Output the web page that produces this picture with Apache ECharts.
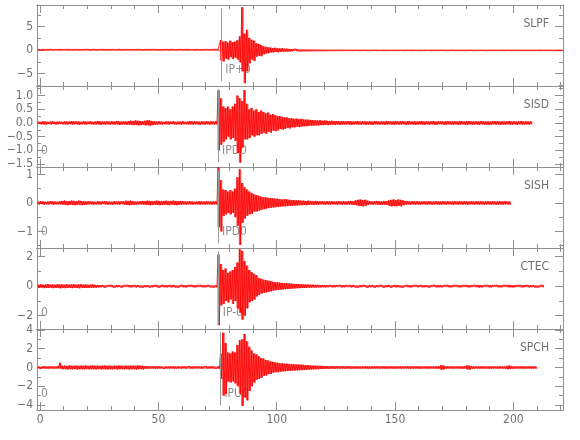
<!DOCTYPE html>
<html><head><meta charset="utf-8">
<script src="https://cdn.jsdelivr.net/npm/echarts@6/dist/echarts.min.js"></script>
<style>html,body{margin:0;padding:0;background:#fff}#c{width:580px;height:440px}</style>
</head><body><div id="c"></div>
<script>
// ---------------- data ----------------
const stations = ['SLPF', 'SISD', 'SISH', 'CTEC', 'SPCH'];
const binStart = -1;          // time (s) of the first 1-s envelope bin
const xMin = -1.3, xMax = 221;
const xMajorTicks = [0, 50, 100, 150, 200];
const xMinorTicks = [10, 20, 30, 40, 60, 70, 80, 90, 110, 120, 130, 140, 160, 170, 180, 190, 210, 220];
const yMin = [-7.62, -1.61, -1.58, -2.9, -4.53];
const yMax = [9.58, 1.35, 1.26, 2.59, 4.1];
const yMajorTicks = [[-5, 0, 5], [-1.5, -1, -0.5, 0, 0.5, 1], [-1, 0, 1], [-2, 0, 2], [-4, -2, 0, 2, 4]];
const yMinorTicks = [[-7.5, -2.5, 2.5, 7.5], [-1.25, -0.75, -0.25, 0.25, 0.75, 1.25], [-1.5, -0.5, 0.5], [-1, 1], [-3, -1, 1, 3]];
const yDecimals = [0, 1, 0, 0, 0];
const pickTimes = [76.6, 75.2, 75.2, 75.5, 76.2];
const pickLabels = ['IP+0', 'IPD0', 'IPD0', 'IP-0', 'IPU0'];
const originTimes = [null, 0, 0, 0, 0];
const originLabels = ['', '0', '0', '0', '0'];

// per-second envelope (max / min) of each trace
const hiSLPF = [
 .15,.13,.17,.14,.15,.18,.13,.15,.14,.16,
 .13,.15,.18,.14,.15,.13,.17,.15,.13,.15,
 .18,.15,.13,.16,.15,.14,.15,.17,.13,.15,
 .14,.16,.15,.13,.18,.15,.14,.15,.16,.13,
 .15,.14,.17,.15,.13,.15,.16,.14,.15,.18,
 .14,.15,.13,.16,.15,.14,.17,.15,.13,.15,
 .16,.14,.15,.18,.13,.15,.14,.17,.15,.13,
 .15,.16,.14,.15,.18,.17,.15,2.1,1.8,1.9,
 1.6,2.0,1.7,1.8,2.1,2.9,9.1,3.5,4.3,2.6,
 2.2,2.0,1.5,1.3,1.1,0.8,0.7,0.6,0.55,0.45,
 0.5,0.4,0.35,0.4,0.3,0.3,0.25,0.25,0.22,0.25,
 0.2,0.22,0.2,0.18,0.2,0.17,0.18,0.15,0.17,0.15,
 .16,.15,.14,.13,.15,.12,.14,.13,.12,.14,
 .12,.13,.11,.12,.14,.12,.11,.13,.12,.10,
 .12,.11,.13,.12,.10,.12,.14,.11,.12,.10,
 .13,.12,.11,.12,.10,.13,.12,.11,.14,.12,
 .10,.12,.11,.13,.12,.10,.12,.14,.11,.12,
 .13,.11,.12,.10,.12,.15,.11,.12,.10,.13,
 .12,.11,.14,.12,.10,.12,.11,.13,.12,.10,
 .12,.14,.11,.12,.10,.13,.12,.11,.12,.14,
 .11,.12,.10,.13,.12,.11,.12,.10,.13,.12,
 .11,.12,.14,.10,.12,.11,.13,.12,.10,.12,
 .11,.12];
const loSLPF = [
 -.14,-.16,-.13,-.15,-.17,-.14,-.15,-.13,-.16,-.15,
 -.15,-.13,-.16,-.15,-.14,-.17,-.13,-.15,-.16,-.14,
 -.13,-.15,-.17,-.14,-.15,-.16,-.13,-.15,-.14,-.16,
 -.15,-.14,-.13,-.16,-.15,-.17,-.14,-.15,-.13,-.15,
 -.16,-.15,-.14,-.13,-.17,-.15,-.14,-.16,-.15,-.13,
 -.15,-.16,-.14,-.15,-.13,-.17,-.15,-.14,-.16,-.15,
 -.13,-.15,-.16,-.14,-.15,-.13,-.17,-.15,-.14,-.16,
 -.15,-.14,-.16,-.15,-.17,-.15,-.16,-2.2,-2.4,-1.8,
 -2.0,-1.5,-1.9,-1.6,-2.0,-2.6,-4.5,-7.0,-4.5,-2.8,
 -2.0,-2.3,-1.4,-1.2,-1.3,-0.9,-0.7,-0.65,-0.5,-0.5,
 -0.4,-0.45,-0.4,-0.35,-0.35,-0.3,-0.3,-0.25,-0.2,-0.22,
 -0.2,-0.22,-0.2,-0.2,-0.18,-0.19,-0.16,-0.17,-0.15,-0.16,
 -.15,-.14,-.15,-.13,-.12,-.14,-.13,-.12,-.13,-.11,
 -.12,-.10,-.13,-.12,-.11,-.13,-.12,-.10,-.12,-.13,
 -.11,-.12,-.10,-.13,-.12,-.11,-.12,-.14,-.10,-.12,
 -.13,-.11,-.12,-.10,-.13,-.12,-.11,-.12,-.13,-.10,
 -.12,-.13,-.11,-.12,-.10,-.12,-.14,-.11,-.12,-.13,
 -.10,-.12,-.13,-.11,-.12,-.10,-.13,-.12,-.11,-.12,
 -.13,-.12,-.10,-.12,-.14,-.11,-.12,-.10,-.13,-.12,
 -.11,-.12,-.13,-.10,-.12,-.11,-.13,-.12,-.10,-.12,
 -.12,-.10,-.13,-.11,-.12,-.13,-.10,-.12,-.11,-.13,
 -.12,-.11,-.12,-.13,-.10,-.12,-.11,-.13,-.12,-.11,
 -.12,-.11];

const hiSISD = [
 .05,.04,.06,.05,.04,.05,.06,.04,.05,.05,
 .04,.06,.05,.05,.07,.05,.06,.05,.04,.06,
 .05,.05,.06,.04,.05,.07,.06,.05,.05,.06,
 .05,.06,.05,.07,.06,.05,.06,.05,.07,.08,
 .07,.09,.08,.07,.06,.08,.10,.09,.07,.06,
 .05,.06,.05,.04,.06,.05,.05,.06,.04,.05,
 .05,.06,.04,.05,.07,.05,.06,.05,.05,.06,
 .05,.06,.05,.06,.05,.07,1.2,0.9,0.6,0.55,
 0.6,0.5,0.6,0.7,1.0,0.9,0.8,1.2,0.7,0.5,
 0.55,0.45,0.5,0.4,0.45,0.4,0.35,0.38,0.3,0.32,
 0.28,0.25,0.25,0.22,0.2,0.2,0.17,0.17,0.15,0.16,
 0.14,0.15,0.13,0.12,0.12,0.11,0.1,0.1,0.09,0.1,
 .08,.09,.08,.07,.08,.07,.07,.06,.07,.06,
 .06,.07,.06,.05,.06,.07,.05,.06,.06,.05,
 .06,.05,.07,.06,.05,.06,.05,.07,.06,.05,
 .06,.07,.05,.06,.06,.05,.07,.06,.05,.06,
 .05,.06,.07,.05,.06,.05,.06,.07,.05,.06,
 .06,.05,.06,.07,.05,.06,.06,.05,.07,.06,
 .05,.06,.07,.06,.05,.06,.05,.07,.06,.05,
 .06,.05,.06,.07,.06,.05,.06,.05,.06,.07,
 .05,.06,.05,.06,.07,.05,.06,.05,.06];
const loSISD = [
 -.04,-.05,-.05,-.06,-.04,-.05,-.04,-.06,-.05,-.04,
 -.05,-.05,-.06,-.04,-.06,-.05,-.05,-.07,-.05,-.05,
 -.06,-.04,-.05,-.06,-.05,-.05,-.07,-.05,-.06,-.05,
 -.06,-.05,-.06,-.05,-.07,-.06,-.05,-.07,-.06,-.07,
 -.08,-.07,-.09,-.08,-.07,-.09,-.08,-.10,-.08,-.07,
 -.06,-.05,-.06,-.05,-.05,-.06,-.04,-.05,-.06,-.05,
 -.06,-.05,-.05,-.06,-.05,-.06,-.05,-.05,-.07,-.05,
 -.06,-.05,-.06,-.05,-.06,-.05,-1.0,-0.8,-0.7,-0.6,
 -0.5,-0.6,-0.55,-0.65,-1.1,-1.45,-0.9,-0.6,-0.6,-0.55,
 -0.45,-0.5,-0.45,-0.45,-0.4,-0.35,-0.4,-0.32,-0.35,-0.28,
 -0.3,-0.27,-0.22,-0.24,-0.22,-0.18,-0.2,-0.16,-0.16,-0.14,
 -0.15,-0.13,-0.12,-0.12,-0.11,-0.1,-0.1,-0.09,-0.09,-0.08,
 -.08,-.07,-.08,-.07,-.06,-.07,-.06,-.07,-.06,-.06,
 -.05,-.06,-.07,-.06,-.05,-.06,-.06,-.05,-.07,-.06,
 -.06,-.07,-.05,-.06,-.06,-.05,-.07,-.06,-.05,-.06,
 -.07,-.05,-.06,-.06,-.05,-.07,-.06,-.05,-.06,-.07,
 -.06,-.05,-.06,-.07,-.05,-.06,-.05,-.06,-.07,-.05,
 -.05,-.06,-.07,-.05,-.06,-.06,-.05,-.07,-.06,-.05,
 -.06,-.07,-.05,-.06,-.06,-.05,-.07,-.05,-.06,-.06,
 -.07,-.06,-.05,-.06,-.05,-.07,-.06,-.06,-.05,-.06,
 -.06,-.05,-.07,-.05,-.06,-.06,-.05,-.06,-.05];

const hiSISH = [
 .05,.06,.05,.04,.05,.06,.05,.05,.04,.06,
 .07,.08,.06,.07,.08,.07,.06,.08,.07,.06,
 .05,.06,.05,.05,.04,.06,.05,.05,.06,.05,
 .05,.04,.06,.05,.05,.06,.05,.08,.07,.08,
 .06,.05,.05,.06,.07,.06,.08,.07,.06,.07,
 .08,.07,.06,.07,.08,.06,.07,.08,.07,.06,
 .07,.06,.05,.05,.06,.05,.04,.05,.06,.05,
 .05,.06,.05,.05,.06,.05,1.25,0.8,0.47,0.45,
 0.4,0.45,0.4,0.5,0.9,1.18,0.7,0.55,0.47,0.4,
 0.35,0.3,0.28,0.25,0.22,0.2,0.2,0.18,0.17,0.16,
 0.15,0.15,0.13,0.12,0.13,0.12,0.11,0.1,0.1,0.09,
 .09,.08,.08,.07,.08,.07,.06,.07,.06,.06,
 .06,.05,.06,.05,.06,.05,.05,.06,.05,.06,
 .05,.06,.07,.06,.09,.11,.12,.10,.11,.08,
 .06,.05,.06,.07,.06,.05,.07,.06,.09,.11,
 .12,.10,.12,.11,.09,.07,.06,.05,.06,.05,
 .06,.05,.05,.06,.05,.06,.05,.05,.06,.05,
 .05,.06,.05,.06,.05,.05,.06,.05,.06,.05,
 .06,.05,.05,.06,.05,.06,.05,.06,.05,.05,
 .06,.05,.06,.05,.05,.06,.05,.06,.05,.05];
const loSISH = [
 -.05,-.04,-.06,-.05,-.05,-.04,-.06,-.05,-.05,-.05,
 -.06,-.07,-.08,-.06,-.07,-.08,-.07,-.06,-.08,-.07,
 -.06,-.05,-.05,-.06,-.05,-.05,-.06,-.04,-.05,-.06,
 -.05,-.06,-.05,-.05,-.06,-.04,-.06,-.07,-.08,-.07,
 -.07,-.06,-.05,-.05,-.06,-.07,-.07,-.08,-.07,-.06,
 -.07,-.08,-.07,-.06,-.07,-.08,-.06,-.07,-.08,-.07,
 -.06,-.05,-.06,-.05,-.05,-.06,-.05,-.05,-.06,-.05,
 -.06,-.05,-.05,-.06,-.05,-.05,-0.85,-1.0,-0.45,-0.4,
 -0.35,-0.4,-0.35,-0.5,-0.8,-1.47,-0.7,-0.55,-0.45,-0.4,
 -0.38,-0.3,-0.3,-0.27,-0.24,-0.22,-0.2,-0.18,-0.17,-0.16,
 -0.15,-0.14,-0.13,-0.12,-0.12,-0.11,-0.1,-0.1,-0.09,-0.09,
 -.08,-.08,-.07,-.08,-.07,-.06,-.07,-.06,-.06,-.05,
 -.05,-.06,-.05,-.06,-.05,-.05,-.06,-.05,-.06,-.05,
 -.06,-.05,-.06,-.07,-.08,-.10,-.11,-.12,-.10,-.07,
 -.05,-.06,-.05,-.06,-.07,-.06,-.06,-.07,-.10,-.12,
 -.11,-.12,-.10,-.12,-.08,-.06,-.05,-.06,-.05,-.06,
 -.05,-.06,-.05,-.05,-.06,-.05,-.06,-.05,-.05,-.06,
 -.06,-.05,-.06,-.05,-.05,-.06,-.05,-.06,-.05,-.06,
 -.05,-.06,-.05,-.05,-.06,-.05,-.06,-.05,-.06,-.05,
 -.05,-.06,-.05,-.06,-.06,-.05,-.06,-.05,-.05,-.06];

const hiCTEC = [
 .11,.13,.10,.12,.14,.11,.12,.10,.13,.12,
 .12,.10,.13,.11,.12,.14,.10,.12,.13,.11,
 .12,.10,.11,.12,.09,.08,.07,.08,.07,.06,
 .07,.08,.06,.07,.08,.07,.06,.07,.08,.07,
 .06,.07,.08,.07,.06,.07,.08,.06,.07,.07,
 .08,.06,.07,.08,.07,.06,.07,.09,.07,.06,
 .07,.08,.07,.06,.07,.08,.07,.06,.07,.08,
 .07,.06,.08,.07,.06,.07,2.15,1.5,1.1,1.2,
 0.9,1.0,1.1,1.3,1.6,2.5,2.4,1.7,1.4,1.1,
 0.95,0.85,0.75,0.55,0.5,0.45,0.42,0.38,0.35,0.3,
 0.28,0.26,0.24,0.22,0.2,0.2,0.18,0.17,0.16,0.15,
 .14,.13,.12,.12,.11,.10,.10,.09,.09,.08,
 .08,.07,.08,.07,.07,.08,.07,.06,.07,.08,
 .07,.06,.07,.08,.07,.06,.07,.07,.08,.06,
 .07,.08,.06,.07,.07,.08,.06,.07,.09,.07,
 .06,.07,.08,.07,.06,.07,.08,.07,.06,.07,
 .08,.07,.06,.07,.08,.07,.06,.07,.07,.08,
 .07,.06,.07,.08,.07,.06,.07,.08,.07,.06,
 .07,.08,.07,.06,.07,.08,.09,.07,.06,.07,
 .08,.07,.06,.07,.08,.07,.06,.07,.08,.09,
 .07,.08,.07,.06,.07,.08,.07,.06,.07,.08,
 .07,.06,.07,.08];
const loCTEC = [
 -.12,-.10,-.13,-.11,-.12,-.10,-.13,-.12,-.11,-.14,
 -.11,-.13,-.12,-.10,-.13,-.11,-.12,-.14,-.10,-.12,
 -.11,-.12,-.10,-.11,-.10,-.08,-.07,-.06,-.08,-.07,
 -.06,-.07,-.08,-.07,-.06,-.08,-.07,-.06,-.07,-.08,
 -.07,-.08,-.06,-.07,-.08,-.07,-.06,-.08,-.07,-.06,
 -.07,-.08,-.06,-.07,-.08,-.07,-.08,-.06,-.07,-.08,
 -.06,-.07,-.08,-.07,-.06,-.07,-.08,-.07,-.06,-.07,
 -.08,-.07,-.06,-.07,-.08,-.07,-2.64,-1.3,-1.2,-1.0,
 -1.1,-0.9,-1.2,-1.0,-1.5,-1.8,-2.26,-2.0,-1.5,-1.1,
 -1.0,-0.9,-0.7,-0.6,-0.5,-0.45,-0.42,-0.38,-0.35,-0.3,
 -0.27,-0.25,-0.23,-0.22,-0.2,-0.19,-0.17,-0.16,-0.15,-0.14,
 -.13,-.12,-.12,-.11,-.10,-.10,-.09,-.09,-.08,-.08,
 -.07,-.08,-.07,-.06,-.08,-.07,-.06,-.07,-.08,-.07,
 -.06,-.07,-.08,-.06,-.07,-.08,-.07,-.06,-.07,-.08,
 -.07,-.06,-.08,-.07,-.06,-.07,-.08,-.07,-.06,-.08,
 -.07,-.08,-.06,-.07,-.08,-.06,-.07,-.08,-.07,-.06,
 -.07,-.06,-.08,-.07,-.06,-.08,-.07,-.06,-.08,-.07,
 -.08,-.07,-.06,-.07,-.08,-.07,-.06,-.07,-.08,-.07,
 -.06,-.07,-.08,-.07,-.06,-.07,-.09,-.08,-.07,-.06,
 -.07,-.08,-.07,-.06,-.07,-.08,-.07,-.06,-.07,-.08,
 -.08,-.07,-.06,-.07,-.08,-.07,-.06,-.08,-.07,-.06,
 -.07,-.08,-.06,-.07];

const hiSPCH = [
 .12,.10,.14,.12,.11,.13,.12,.10,.14,.50,
 .18,.20,.16,.22,.19,.18,.21,.17,.20,.18,
 .21,.17,.19,.22,.18,.20,.17,.19,.21,.18,
 .20,.17,.19,.18,.22,.19,.17,.20,.18,.19,
 .21,.18,.22,.20,.17,.15,.14,.12,.13,.12,
 .11,.13,.12,.10,.12,.11,.13,.12,.10,.12,
 .11,.13,.12,.10,.12,.11,.13,.12,.11,.12,
 .10,.12,.11,.13,.12,.10,.12,1.5,3.7,2.6,
 1.6,1.5,1.7,1.6,2.4,2.9,3.0,3.55,2.8,2.2,
 1.8,1.5,1.4,1.2,1.0,0.95,0.8,0.75,0.65,0.6,
 0.55,0.5,0.45,0.45,0.4,0.4,0.38,0.35,0.35,0.32,
 0.3,0.3,0.28,0.25,0.25,0.22,0.2,0.2,0.18,0.18,
 .17,.15,.15,.14,.15,.13,.14,.12,.13,.12,
 .12,.13,.11,.12,.13,.12,.11,.12,.13,.12,
 .11,.12,.13,.12,.11,.14,.12,.11,.12,.13,
 .12,.11,.13,.12,.11,.12,.13,.12,.11,.12,
 .13,.12,.11,.12,.13,.12,.11,.12,.13,.12,
 .25,.22,.14,.12,.13,.12,.11,.12,.13,.12,
 .14,.22,.20,.13,.12,.11,.12,.13,.12,.11,
 .12,.13,.12,.11,.12,.13,.12,.11,.18,.20,
 .13,.12,.11,.12,.13,.12,.11,.12,.13,.12,
 .11];
const loSPCH = [
 -.11,-.13,-.10,-.12,-.14,-.11,-.12,-.13,-.10,-.12,
 -.19,-.17,-.21,-.18,-.20,-.17,-.22,-.19,-.18,-.20,
 -.17,-.20,-.18,-.19,-.21,-.17,-.20,-.18,-.19,-.21,
 -.18,-.20,-.17,-.21,-.19,-.18,-.20,-.17,-.21,-.19,
 -.18,-.21,-.19,-.17,-.20,-.14,-.13,-.12,-.11,-.13,
 -.12,-.11,-.10,-.13,-.11,-.12,-.10,-.13,-.12,-.11,
 -.12,-.10,-.13,-.11,-.12,-.13,-.10,-.11,-.12,-.13,
 -.11,-.12,-.13,-.10,-.11,-.12,-.13,-1.2,-3.0,-2.8,
 -1.5,-1.6,-1.5,-1.7,-2.0,-2.8,-4.1,-3.2,-3.5,-2.5,
 -2.0,-1.6,-1.3,-1.2,-1.1,-0.9,-0.85,-0.7,-0.7,-0.55,
 -0.5,-0.5,-0.45,-0.42,-0.4,-0.38,-0.35,-0.33,-0.32,-0.3,
 -0.3,-0.28,-0.26,-0.25,-0.23,-0.22,-0.2,-0.19,-0.18,-0.17,
 -.16,-.15,-.14,-.15,-.13,-.14,-.12,-.13,-.12,-.13,
 -.12,-.11,-.13,-.12,-.11,-.12,-.13,-.11,-.12,-.13,
 -.12,-.13,-.11,-.12,-.13,-.11,-.12,-.13,-.11,-.12,
 -.13,-.12,-.11,-.13,-.12,-.11,-.12,-.13,-.12,-.11,
 -.12,-.13,-.12,-.11,-.12,-.13,-.11,-.12,-.13,-.12,
 -.24,-.21,-.13,-.12,-.11,-.13,-.12,-.11,-.12,-.13,
 -.12,-.20,-.23,-.12,-.13,-.11,-.12,-.13,-.11,-.12,
 -.13,-.12,-.11,-.12,-.13,-.11,-.12,-.13,-.19,-.17,
 -.12,-.13,-.11,-.12,-.12,-.13,-.11,-.12,-.12,-.13,
 -.12];

const hiAll = [hiSLPF, hiSISD, hiSISH, hiCTEC, hiSPCH];
const loAll = [loSLPF, loSISD, loSISH, loCTEC, loSPCH];

// ---------------- chart ----------------
const AX = '#909090', TXT = '#707070', RED = '#ff0000', PICK = '#9a9a9a';
const FF = "'Liberation Sans Narrow', 'DejaVu Sans Condensed', sans-serif";
const PANEL_TOP = 5, PANEL_H = 81;

function zigzag(hi, lo) {
  const d = [];
  const n = Math.min(hi.length, lo.length);
  for (let i = 0; i < n; i++) {
    const t = binStart + i;
    d.push([t + 0.25, hi[i]]);
    d.push([t + 0.75, lo[i]]);
  }
  return d;
}
function envelope(hi, lo) {
  const d = [];
  const n = Math.min(hi.length, lo.length);
  for (let i = 0; i < n; i++) d.push([binStart + i, lo[i], hi[i]]);
  return d;
}
function fmt(dec) {
  return v => (v < 0 ? '\u2212' : '') + Math.abs(v).toFixed(dec);
}
function renderBin(params, api) {
  const t = api.value(0), lo = api.value(1), hi = api.value(2);
  const a = api.coord([t, hi]), b = api.coord([t + 1, lo]);
  const cs = params.coordSys;
  const x0 = Math.max(a[0], cs.x), x1 = Math.min(b[0], cs.x + cs.width);
  if (x1 <= x0) return null;
  return { type: 'rect', shape: { x: x0, y: a[1], width: x1 - x0, height: Math.max(b[1] - a[1], 0.8) },
    style: { fill: 'rgba(255,0,0,0.72)' } };
}

const grid = [], xAxis = [], yAxis = [], series = [], title = [];
stations.forEach((name, i) => {
  const top = PANEL_TOP + PANEL_H * i;
  grid.push({ left: 37, right: 17, top: top, height: PANEL_H });
  const xBase = { gridIndex: i, type: 'value', min: xMin, max: xMax, splitLine: { show: false },
    axisLine: { show: true, onZero: false, lineStyle: { color: AX, width: 1 } } };
  const isLast = i === stations.length - 1;
  ['bottom', 'top'].forEach(pos => {
    xAxis.push(Object.assign({}, xBase, { position: pos,
      axisTick: { show: true, inside: true, length: 4, customValues: xMinorTicks, lineStyle: { color: AX } },
      axisLabel: { show: pos === 'bottom' && isLast, customValues: xMajorTicks, margin: 4,
        color: TXT, fontSize: 12, fontFamily: FF } }));
    xAxis.push(Object.assign({}, xBase, { position: pos,
      axisTick: { show: true, inside: true, length: 8, customValues: xMajorTicks, lineStyle: { color: AX } },
      axisLabel: { show: false } }));
  });
  const yBase = { gridIndex: i, type: 'value', min: yMin[i], max: yMax[i], splitLine: { show: false },
    axisLine: { show: true, onZero: false, lineStyle: { color: AX, width: 1 } } };
  ['left', 'right'].forEach(pos => {
    yAxis.push(Object.assign({}, yBase, { position: pos,
      axisTick: { show: true, inside: true, length: 8, customValues: yMajorTicks[i], lineStyle: { color: AX } },
      axisLabel: { show: pos === 'left', customValues: yMajorTicks[i], margin: 4, formatter: fmt(yDecimals[i]),
        color: TXT, fontSize: 12, fontFamily: FF } }));
    yAxis.push(Object.assign({}, yBase, { position: pos,
      axisTick: { show: true, inside: true, length: 4, customValues: yMinorTicks[i], lineStyle: { color: AX } },
      axisLabel: { show: false } }));
  });
  const range = yMax[i] - yMin[i];
  const lineTop = yMax[i] - 0.04 * range, lineBot = yMax[i] - 0.94 * range;
  const labY = yMax[i] - 0.8 * range;
  // pick line + labels, drawn beneath the trace
  const labels = [{ value: [pickTimes[i], labY], label: { formatter: pickLabels[i], distance: 4 } }];
  if (originTimes[i] !== null) labels.push({ value: [originTimes[i], labY], label: { formatter: originLabels[i], distance: 1 } });
  series.push({
    type: 'scatter', xAxisIndex: 4 * i, yAxisIndex: 4 * i, symbolSize: 0, animation: false, silent: true, z: 1,
    label: { show: true, position: 'right', color: TXT, fontSize: 12, fontFamily: FF },
    data: labels,
    markLine: { silent: true, animation: false, symbol: ['none', 'none'],
      label: { show: false }, lineStyle: { color: PICK, type: 'solid', width: 1 },
      data: [[{ coord: [pickTimes[i], lineTop] }, { coord: [pickTimes[i], lineBot] }]] }
  });
  series.push({
    type: 'custom', xAxisIndex: 4 * i, yAxisIndex: 4 * i, data: envelope(hiAll[i], loAll[i]),
    renderItem: renderBin, encode: { x: 0, y: [1, 2] }, animation: false, silent: true, z: 2
  });
  series.push({
    type: 'line', xAxisIndex: 4 * i, yAxisIndex: 4 * i, data: zigzag(hiAll[i], loAll[i]),
    showSymbol: false, symbol: 'none', animation: false, silent: true, z: 3,
    lineStyle: { color: RED, width: 0.8, join: 'bevel' }
  });
  title.push({ text: name, right: 31, top: top + 13, padding: 0,
    textStyle: { color: TXT, fontSize: 12, fontWeight: 'normal', fontFamily: FF } });
});

const chart = echarts.init(document.getElementById('c'), null, { renderer: 'canvas' });
chart.setOption({ animation: false, backgroundColor: '#fff', title, grid, xAxis, yAxis, series });
</script>
</body></html>
